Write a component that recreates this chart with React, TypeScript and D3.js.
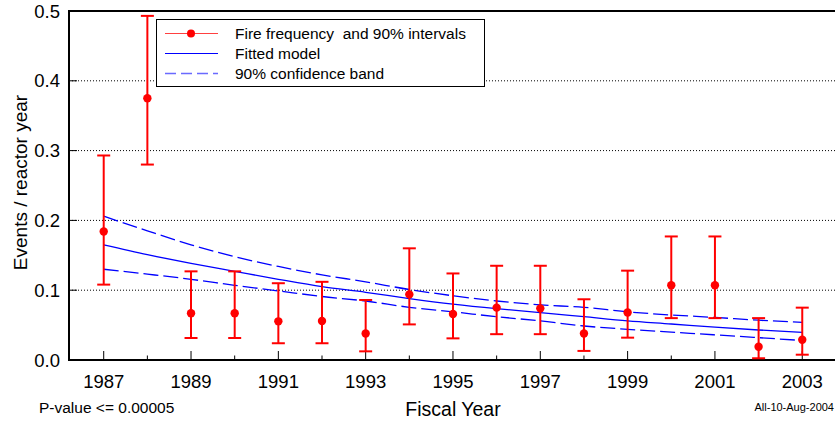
import { useEffect, useRef } from 'react';
import * as d3 from 'd3';

// Fire frequency per fiscal year with 90% intervals
const years = [1987, 1988, 1989, 1990, 1991, 1992, 1993, 1994, 1995, 1996, 1997, 1998, 1999, 2000, 2001, 2002, 2003];
const frequency = [0.184, 0.375, 0.067, 0.067, 0.0554, 0.056, 0.038, 0.094, 0.066, 0.075, 0.074, 0.038, 0.068, 0.107, 0.107, 0.019, 0.029];
const intervalHigh = [0.293, 0.493, 0.127, 0.127, 0.11, 0.112, 0.086, 0.16, 0.124, 0.135, 0.135, 0.087, 0.128, 0.177, 0.177, 0.06, 0.075];
const intervalLow = [0.108, 0.28, 0.0315, 0.0315, 0.024, 0.024, 0.0124, 0.051, 0.031, 0.037, 0.037, 0.013, 0.032, 0.06, 0.06, 0.0025, 0.0076];

// Fitted model and its 90% confidence band
const fitted = [0.165, 0.151, 0.1385, 0.127, 0.1156, 0.105, 0.097, 0.088, 0.08, 0.0735, 0.068, 0.062, 0.056, 0.0516, 0.047, 0.043, 0.0397];
const bandHigh = [0.206, 0.185, 0.165, 0.148, 0.134, 0.122, 0.112, 0.101, 0.092, 0.0845, 0.079, 0.0755, 0.069, 0.0645, 0.061, 0.057, 0.054];
const bandLow = [0.13, 0.123, 0.1156, 0.107, 0.099, 0.091, 0.0845, 0.0755, 0.069, 0.062, 0.056, 0.0487, 0.044, 0.04, 0.036, 0.032, 0.028];

const yTicks = [0, 0.1, 0.2, 0.3, 0.4, 0.5];
const xLabelYears = [1987, 1989, 1991, 1993, 1995, 1997, 1999, 2001, 2003];

const legendItems = ['Fire frequency  and 90% intervals', 'Fitted model', '90% confidence band'];

const W = 835;
const H = 423;
const FONT = '"Liberation Sans", Arial, sans-serif';

export default function App() {
  const svgRef = useRef<SVGSVGElement>(null);

  useEffect(() => {
    if (!svgRef.current) return;
    document.body.style.margin = '0';
    const svg = d3.select(svgRef.current);
    svg.selectAll('*').remove();

    const x = d3.scaleLinear().domain([1986.205, 2003.75]).range([69, 835]);
    const y = d3.scaleLinear().domain([0, 0.5]).range([360, 11]);
    const [x0, x1] = x.range();

    // dotted grid lines
    svg
      .append('g')
      .selectAll('line')
      .data(yTicks.filter((t) => t > 0 && t < 0.5))
      .enter()
      .append('line')
      .attr('x1', x0)
      .attr('x2', x1)
      .attr('y1', (d) => y(d))
      .attr('y2', (d) => y(d))
      .attr('stroke', '#000')
      .attr('stroke-width', 1)
      .attr('stroke-dasharray', '1,2');

    // y tick marks (inside)
    svg
      .append('g')
      .selectAll('line')
      .data(yTicks)
      .enter()
      .append('line')
      .attr('x1', x0)
      .attr('x2', x0 + 8)
      .attr('y1', (d) => y(d))
      .attr('y2', (d) => y(d))
      .attr('stroke', '#000')
      .attr('stroke-width', 1);

    // x tick marks, every year, longer at labelled years
    svg
      .append('g')
      .selectAll('line')
      .data(years)
      .enter()
      .append('line')
      .attr('x1', (d) => x(d))
      .attr('x2', (d) => x(d))
      .attr('y1', y(0))
      .attr('y2', (d) => y(0) - (xLabelYears.includes(d) ? 9 : 4.5))
      .attr('stroke', '#000')
      .attr('stroke-width', 1);

    // frame: left, bottom, top
    svg
      .append('path')
      .attr('d', `M${x1},${y(0.5)}H${x0}V${y(0)}H${x1}`)
      .attr('fill', 'none')
      .attr('stroke', '#000')
      .attr('stroke-width', 2);

    // y tick labels
    svg
      .append('g')
      .selectAll('text')
      .data(yTicks)
      .enter()
      .append('text')
      .attr('x', 60)
      .attr('y', (d) => y(d))
      .attr('dy', '0.36em')
      .attr('text-anchor', 'end')
      .attr('font-family', FONT)
      .attr('font-size', 18.5)
      .text((d) => d3.format('.1f')(d));

    // x tick labels
    svg
      .append('g')
      .selectAll('text')
      .data(xLabelYears)
      .enter()
      .append('text')
      .attr('x', (d) => x(d))
      .attr('y', 388)
      .attr('text-anchor', 'middle')
      .attr('font-family', FONT)
      .attr('font-size', 18.5)
      .text((d) => d);

    // axis titles
    svg
      .append('text')
      .attr('transform', `translate(26.5,182.5) rotate(-90)`)
      .attr('text-anchor', 'middle')
      .attr('font-family', FONT)
      .attr('font-size', 19)
      .text('Events / reactor year');

    svg
      .append('text')
      .attr('x', 453)
      .attr('y', 416)
      .attr('text-anchor', 'middle')
      .attr('font-family', FONT)
      .attr('font-size', 19.5)
      .text('Fiscal Year');

    svg
      .append('text')
      .attr('x', 39)
      .attr('y', 413)
      .attr('font-family', FONT)
      .attr('font-size', 15.5)
      .text('P-value <= 0.00005');

    svg
      .append('text')
      .attr('x', 834)
      .attr('y', 411)
      .attr('text-anchor', 'end')
      .attr('font-family', FONT)
      .attr('font-size', 11)
      .text('All-10-Aug-2004');

    // fitted model and confidence band
    const line = d3
      .line<number>()
      .x((_, i) => x(years[i]))
      .y((d) => y(d))
      .curve(d3.curveMonotoneX);

    [bandHigh, bandLow].forEach((band) => {
      svg
        .append('path')
        .attr('d', line(band))
        .attr('fill', 'none')
        .attr('stroke', '#0000ff')
        .attr('stroke-width', 1.3)
        .attr('stroke-dasharray', '15,5');
    });

    svg
      .append('path')
      .attr('d', line(fitted))
      .attr('fill', 'none')
      .attr('stroke', '#0000ff')
      .attr('stroke-width', 1.3);

    // error bars
    const bars = svg.append('g').attr('stroke', '#ff0000').attr('stroke-width', 2);
    years.forEach((yr, i) => {
      const cx = x(yr);
      bars.append('line').attr('x1', cx).attr('x2', cx).attr('y1', y(intervalLow[i])).attr('y2', y(intervalHigh[i]));
      bars.append('line').attr('x1', cx - 6.5).attr('x2', cx + 6.5).attr('y1', y(intervalLow[i])).attr('y2', y(intervalLow[i]));
      bars.append('line').attr('x1', cx - 6.5).attr('x2', cx + 6.5).attr('y1', y(intervalHigh[i])).attr('y2', y(intervalHigh[i]));
    });

    svg
      .append('g')
      .selectAll('circle')
      .data(frequency)
      .enter()
      .append('circle')
      .attr('cx', (_, i) => x(years[i]))
      .attr('cy', (d) => y(d))
      .attr('r', 4.2)
      .attr('fill', '#ff0000');

    // legend
    const legend = svg.append('g');
    legend
      .append('rect')
      .attr('x', 156.5)
      .attr('y', 19.5)
      .attr('width', 328)
      .attr('height', 67)
      .attr('fill', '#fff')
      .attr('stroke', '#000')
      .attr('stroke-width', 1);

    legendItems.forEach((label, i) => {
      const ly = 33.5 + i * 20;
      const sample = legend
        .append('line')
        .attr('x1', 165)
        .attr('x2', 218)
        .attr('y1', ly)
        .attr('y2', ly)
        .attr('stroke', i === 0 ? '#ff4040' : i === 1 ? '#0000ff' : '#6a6aff')
        .attr('stroke-width', 1);
      if (i === 2) sample.attr('stroke-dasharray', '11,5').attr('stroke-width', 1.5);
      if (i === 0) {
        legend.append('circle').attr('cx', 191).attr('cy', ly).attr('r', 4).attr('fill', '#ff0000');
      }
      legend
        .append('text')
        .attr('x', 235)
        .attr('y', ly)
        .attr('dy', '0.36em')
        .attr('font-family', FONT)
        .attr('font-size', 15.5)
        .style('white-space', 'pre')
        .text(label);
    });
  }, []);

  return <svg ref={svgRef} width={W} height={H} style={{ display: 'block', background: '#fff' }} />;
}
